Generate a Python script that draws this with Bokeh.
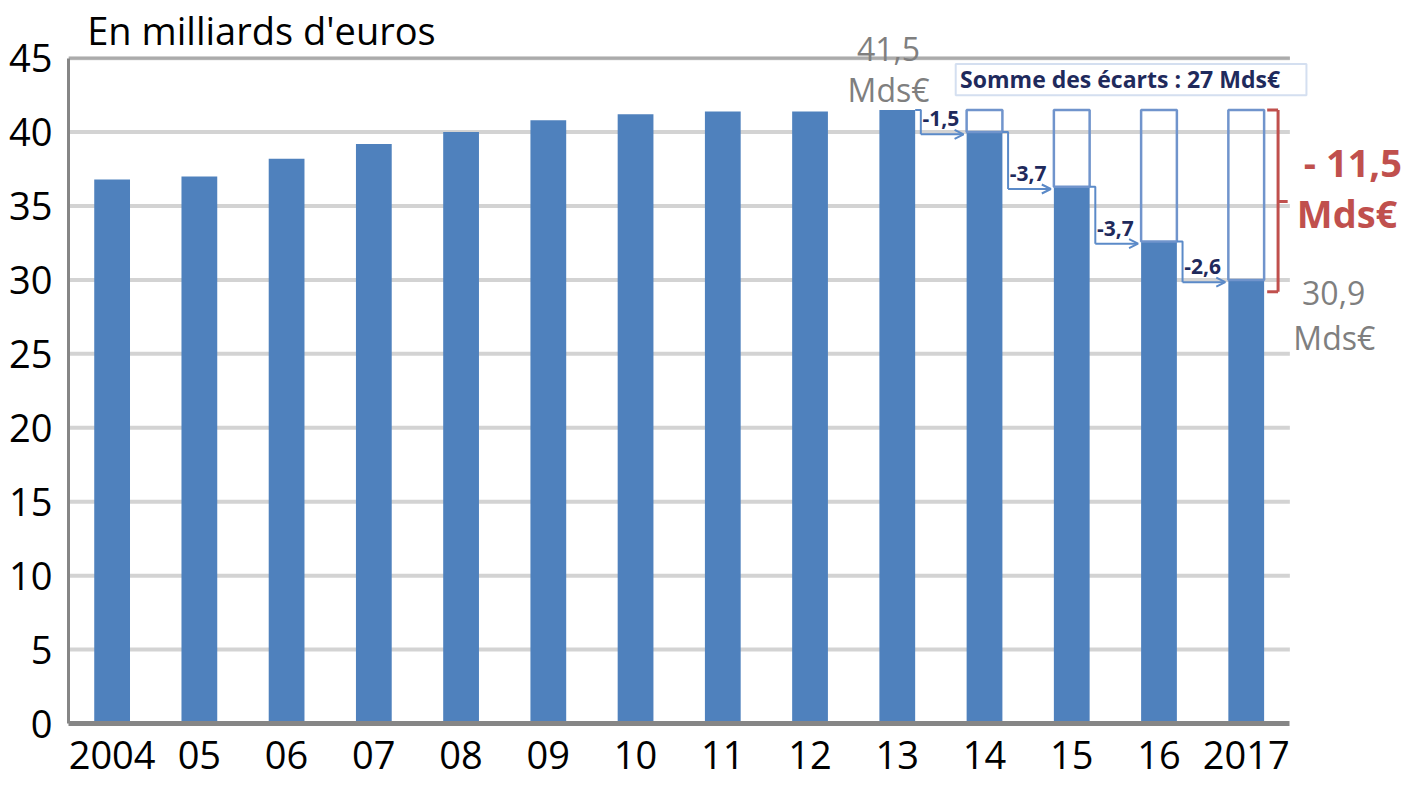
from bokeh.plotting import figure
from bokeh.models import Range1d, FixedTicker, Label, Arrow, OpenHead, ColumnDataSource, BoxAnnotation
from bokeh.embed import file_html
from bokeh.resources import INLINE
from bokeh.core.properties import value

# ---- data ----
years = ["2004", "05", "06", "07", "08", "09", "10", "11", "12", "13", "14", "15", "16", "2017"]
amounts = [36.8, 37.0, 38.2, 39.2, 40.0, 40.8, 41.2, 41.4, 41.4, 41.5, 40.0, 36.3, 32.6, 30.0]
step_labels = ["-1,5", "-3,7", "-3,7", "-2,6"]
reference_level = 41.5
y_ticks = [0, 5, 10, 15, 20, 25, 30, 35, 40, 45]
title_text = "En milliards d'euros"
sum_text = "Somme des écarts : 27 Mds€"

FONT = "Open Sans"
BLUE = "#4F81BD"
OUTLINE = "#7094CC"
RED = "#C0504D"
GREY = "#7F7F7F"
NAVY = "#1F2A5C"

xs = list(range(len(years)))
first_cut = 9  # index of 2013 (last year before the cuts)
x_lo, x_hi = -0.5, len(years) - 0.5

p = figure(width=1408, height=780,
           x_range=Range1d(x_lo, 14.86), y_range=Range1d(0, 48.9),
           output_backend="svg", toolbar_location=None,
           min_border_left=68, min_border_right=0, min_border_top=0, min_border_bottom=57)
p.outline_line_color = None
p.background_fill_color = "white"

# axes
p.xaxis.ticker = FixedTicker(ticks=xs)
p.xaxis.major_label_overrides = {i: y for i, y in enumerate(years)}
p.yaxis.ticker = FixedTicker(ticks=y_ticks)
for ax in (p.xaxis, p.yaxis):
    ax.major_tick_line_color = None
    ax.minor_tick_line_color = None
    ax.axis_line_color = "#868686"
    ax.major_label_text_font = FONT
    ax.major_label_text_font_size = "38px"
    ax.major_label_text_color = "black"
p.yaxis.bounds = (y_ticks[0], y_ticks[-1])
p.xaxis.bounds = (x_lo, x_hi)
p.yaxis.axis_line_width = 3
p.xaxis.axis_line_width = 5
p.yaxis.major_label_standoff = 10
p.xaxis.major_label_standoff = 11
p.xgrid.grid_line_color = None
p.ygrid.grid_line_color = None

# horizontal gridlines limited to the plot area
gy = y_ticks[1:]
p.segment(x0=[x_lo] * len(gy), x1=[x_hi] * len(gy), y0=gy, y1=gy,
          line_color="#D3D3D3", line_width=4)
p.segment(x0=[x_lo], x1=[x_hi], y0=[y_ticks[-1]], y1=[y_ticks[-1]],
          line_color="#ABABAB", line_width=3)

# bars
p.vbar(x=xs, top=amounts, width=0.41, fill_color=BLUE, line_color=None)

# hollow boxes showing the gap to the 2013 level
cut_x = xs[first_cut + 1:]
p.vbar(x=cut_x, top=[reference_level] * len(cut_x), bottom=amounts[first_cut + 1:],
       width=0.41, fill_color=None, line_color=OUTLINE, line_width=2.5)

# elbow connectors with arrows
cx, cy, ax0, ay0, ax1, ay1, lx, ly = [], [], [], [], [], [], [], []
for i in range(first_cut, len(years) - 1):
    yl = amounts[i + 1] - 0.15
    cx.append([i + 0.205, i + 0.27, i + 0.27])
    cy.append([amounts[i], amounts[i], yl])
    ax0.append(i + 0.27); ay0.append(yl); ax1.append(i + 0.76); ay1.append(yl)
    lx.append(i + 0.29); ly.append(amounts[i + 1] + 0.9)
p.multi_line(xs=cx, ys=cy, line_color="#5B8AC8", line_width=2)
asrc = ColumnDataSource(dict(x0=ax0, y0=ay0, x1=ax1, y1=ay1))
p.add_layout(Arrow(source=asrc, x_start="x0", y_start="y0", x_end="x1", y_end="y1",
                   line_color="#5B8AC8", line_width=2,
                   end=OpenHead(size=9, line_color="#5B8AC8", line_width=2)))
p.text(x=lx, y=ly, text=step_labels, text_font=value(FONT), text_font_size="21px",
       text_font_style="bold", text_color=NAVY, text_align="left", text_baseline="middle")

# red bracket
bx = len(years) - 1 + 0.365
p.segment(x0=[bx, bx - 0.125, bx - 0.125, bx], y0=[29.2, 41.5, 29.2, 35.3],
          x1=[bx, bx, bx, bx + 0.11], y1=[41.5, 41.5, 29.2, 35.3],
          line_color=RED, line_width=3)

# sum box
p.add_layout(BoxAnnotation(left=9.67, right=13.69, bottom=42.5, top=44.6,
                           fill_color=None, line_color=OUTLINE, line_width=2))
p.add_layout(Label(x=9.72, y=43.6, text=sum_text, text_font=FONT, text_font_size="23px",
                   text_font_style="bold", text_color=NAVY, text_baseline="middle"))

# text labels
def lab(x, y, t, size, color, style="normal", align="left"):
    p.add_layout(Label(x=x, y=y, text=t, text_font=FONT, text_font_size=size,
                       text_color=color, text_font_style=style, text_align=align,
                       text_baseline="middle"))

lab(-0.285, 46.9, title_text, "38px", "black")
lab(8.9, 45.6, "41,5", "32px", GREY, align="center")
lab(8.9, 42.9, "Mds€", "32px", GREY, align="center")
lab(13.64, 29.1, "30,9", "32px", GREY)
lab(13.54, 26.1, "Mds€", "32px", GREY)
lab(13.66, 38.0, "- 11,5", "38px", RED, "bold")
lab(13.58, 34.5, "Mds€", "38px", RED, "bold")

open("out.html", "w").write(file_html(p, INLINE))
